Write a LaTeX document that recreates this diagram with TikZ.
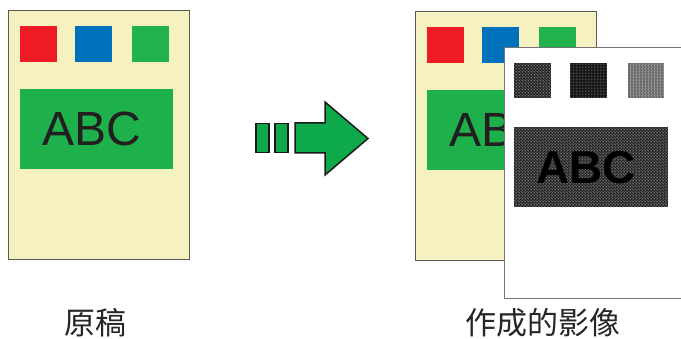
\documentclass[tikz,border=0pt]{standalone}
\usepackage{fontspec}
\newfontfamily\abcfont{Liberation Sans}
\newfontfamily\cjkfont{Noto Sans CJK TC}
\usetikzlibrary{patterns, patterns.meta, positioning}
\definecolor{pagecream}{HTML}{F5F1C0}
\definecolor{pageedge}{HTML}{5C5C55}
\definecolor{sqred}{HTML}{ED1C24}
\definecolor{sqblue}{HTML}{0072BC}
\definecolor{sqgreen}{HTML}{22B24C}
\definecolor{boxgreen}{HTML}{1DB04B}
\definecolor{arrgreen}{HTML}{0DA94A}
\definecolor{inkgray}{HTML}{231F20}

% white screen dots for the halftone areas
\tikzdeclarepattern{name=screen, type=uncolored,
  bottom left={(0pt,0pt)}, top right={(2.6pt,2.6pt)}, tile size={(2.6pt,2.6pt)},
  code={\fill (1.3pt,1.3pt) circle (0.6pt);}}
\tikzdeclarepattern{name=screenb, type=uncolored,
  bottom left={(0pt,0pt)}, top right={(3.3pt,3.3pt)}, tile size={(3.3pt,3.3pt)},
  code={\fill (1.1pt,2.2pt) circle (0.5pt);}}

\begin{document}
\begin{tikzpicture}[x=1pt, y=-1pt,
    page/.style={draw=pageedge, line width=1.2pt, fill=pagecream, anchor=north west, inner sep=0pt, minimum width=181pt, minimum height=249pt},
    swatch/.style={anchor=north west, inner sep=0pt, minimum width=37pt, minimum height=36pt},
    textbox/.style={anchor=north west, inner sep=0pt, minimum width=153pt, minimum height=80pt, fill=boxgreen},
    abc/.style={inner sep=0pt, font=\abcfont\fontsize{48}{48}\selectfont, text=inkgray},
    sheet/.style={draw=black!55, line width=1pt, fill=white, anchor=north west, inner sep=0pt, minimum width=182pt, minimum height=251pt},
    halftone/.style={anchor=north west, inner sep=0pt, fill=black!88,
      postaction={pattern=screen, pattern color=white},
      postaction={pattern=screenb, pattern color=white}},
    bar/.style={draw=black!90, line width=1.5pt, fill=arrgreen, inner sep=0pt, minimum width=13pt, minimum height=29pt},
    cjk/.style={font=\cjkfont\fontsize{31}{31}\selectfont, text=black!85}
]
\useasboundingbox (0,0) rectangle (681,339);

% original page and its copy underneath
\foreach \p/\dx/\dy in {orig/0/0, copy/407/1} {
  \node[page] (\p) at (8+\dx,10+\dy) {};
  \node[swatch, fill=sqred] (\p-red) at ([shift={(12,16)}]\p.north west) {};
  \node[swatch, fill=sqblue] (\p-blue) at ([shift={(67,16)}]\p.north west) {};
  \node[swatch, fill=sqgreen] (\p-green) at ([shift={(124,16)}]\p.north west) {};
  \node[textbox] (\p-box) at ([shift={(12,79)}]\p.north west) {};
  \node[abc] (\p-abc) at ([xshift=-5pt]\p-box.center) {ABC};
}

% arrow
\node[bar] (bar1) at (262.5,138) {};
\node[bar, right=4.5pt of bar1] (bar2) {};
\draw[draw=black!90, line width=1.5pt, fill=arrgreen, line join=miter]
  (295,123) -- (325,123) -- (325,102) -- (368,138.5) -- (325,175) -- (325,153) -- (295,153) -- cycle;

% halftone result
\node[sheet] (sheet) at (504,47) {};
\node[halftone, minimum width=37pt, minimum height=35pt] (ht-1) at (514,63) {};
\node[anchor=north west, inner sep=0pt, fill=black!90, minimum width=37pt, minimum height=35pt,
  postaction={pattern=screenb, pattern color=white}] (ht-2) at (570,63) {};
\node[halftone, fill=black!60, minimum width=36pt, minimum height=35pt] (ht-3) at (628,63) {};
\node[halftone, minimum width=154pt, minimum height=80pt] (ht-box) at (514,127) {};
\node[abc, text=black, font=\abcfont\bfseries\fontsize{46}{46}\selectfont] (ht-abc) at ([xshift=-5pt]ht-box.center) {ABC};

% captions
\node[cjk] (orig-label) at (95,323) {原稿};
\node[cjk] (copy-label) at (543,323) {作成的影像};
\end{tikzpicture}
\end{document}
